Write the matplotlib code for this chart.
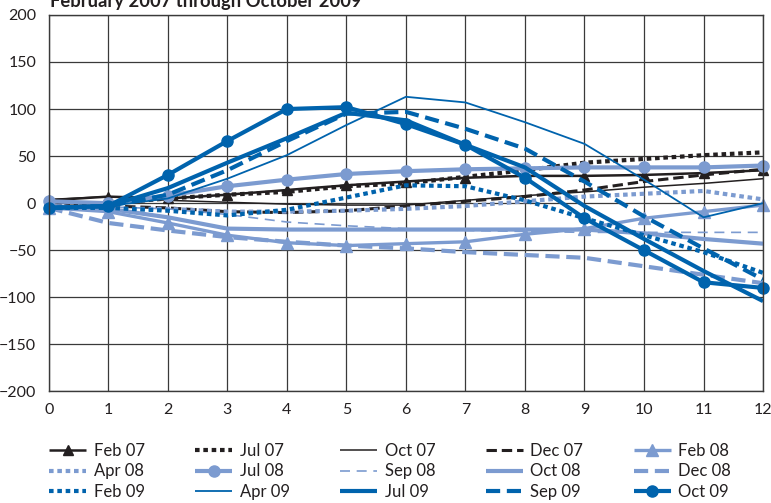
import numpy as np
import matplotlib.pyplot as plt

plt.rcParams['font.family'] = ['Lato', 'DejaVu Sans']

x = list(range(0, 13))

feb07 = [3, 7, 5, 9, 14, 19, 23, 27, 29, 29, 30, 32, 35]
jul07 = [0, 0, 5, 9, 12, 18, 21, 28, 35, 43, 47, 51, 54]
oct07 = [4, 7, 3, 1, -1, -2, -2, 3, 8, 12, 17, 21, 26]
dec07 = [-3, -3, -5, -9, -10, -8, -3, 2, 7, 14, 23, 30, 36]
feb08 = [-5, -9, -21, -34, -42, -45, -43, -41, -33, -27, -16, -9, -2]
apr08 = [-3, -6, -6, -9, -9, -8, -6, -3, 2, 7, 10, 13, 4]
jul08 = [2, 0, 8, 18, 25, 31, 34, 36, 37, 38, 38, 38, 40]
sep08 = [-3, -4, -6, -12, -20, -24, -27, -29, -30, -31, -31, -31, -31]
oct08 = [-3, -6, -15, -27, -28, -28, -28, -28, -28, -28, -32, -38, -43]
dec08 = [-5, -21, -29, -36, -41, -45, -48, -52, -55, -58, -67, -76, -85]
feb09 = [-5, -5, -8, -13, -7, 6, 19, 18, 3, -16, -34, -52, -74]
apr09 = [-5, -3, 5, 26, 51, 83, 113, 107, 86, 63, 25, -15, 0]
jul09 = [-5, -3, 16, 43, 69, 96, 88, 62, 38, -3, -38, -72, -104]
sep09 = [-5, -3, 9, 35, 66, 95, 97, 79, 58, 23, -14, -48, -81]
oct09 = [-5, -3, 30, 66, 100, 102, 84, 62, 27, -16, -50, -84, -90]

BLACK = '#231f20'
LIGHT = '#7c9bd0'
DARK = '#0063ad'

dots = (0, (1.1, 0.9))
dash = (0, (3.4, 1.6))

series = [
    ('Feb 07', feb07, dict(color=BLACK, lw=1.8, marker='^', ms=7)),
    ('Jul 07', jul07, dict(color=BLACK, lw=3.0, linestyle=dots)),
    ('Oct 07', oct07, dict(color=BLACK, lw=1.1)),
    ('Dec 07', dec07, dict(color=BLACK, lw=2.2, linestyle=dash)),
    ('Feb 08', feb08, dict(color=LIGHT, lw=2.4, marker='^', ms=8)),
    ('Apr 08', apr08, dict(color=LIGHT, lw=3.0, linestyle=dots)),
    ('Jul 08', jul08, dict(color=LIGHT, lw=3.0, marker='o', ms=8)),
    ('Sep 08', sep08, dict(color=LIGHT, lw=1.2, linestyle=(0, (6, 4)))),
    ('Oct 08', oct08, dict(color=LIGHT, lw=3.0)),
    ('Dec 08', dec08, dict(color=LIGHT, lw=3.0, linestyle=dash)),
    ('Feb 09', feb09, dict(color=DARK, lw=3.0, linestyle=dots)),
    ('Apr 09', apr09, dict(color=DARK, lw=1.3)),
    ('Jul 09', jul09, dict(color=DARK, lw=3.0)),
    ('Sep 09', sep09, dict(color=DARK, lw=3.0, linestyle=dash)),
    ('Oct 09', oct09, dict(color=DARK, lw=3.0, marker='o', ms=8)),
]

fig = plt.figure(figsize=(7.71, 5.03), dpi=100)
ax = fig.add_axes([0.0632, 0.2217, 0.9265, 0.7487])

handles = []
for label, vals, style in series:
    h, = ax.plot(x, vals, label=label, solid_capstyle='butt', dash_capstyle='butt',
                 clip_on=False, **style)
    handles.append(h)

ax.set_xlim(0, 12)
ax.set_ylim(-200, 200)
ax.set_xticks(x)
ax.set_yticks(range(-200, 201, 50))
ax.grid(True, color='#3a3a3a', lw=0.9)
ax.set_axisbelow(True)
for sp in ax.spines.values():
    sp.set_color('#3a3a3a')
    sp.set_linewidth(1.0)
ax.tick_params(length=0, labelsize=11.5, colors=BLACK, pad=8)
ax.tick_params(axis='y', pad=9)

fig.text(0.065, 1 - 7 / 503, 'February 2007 through October 2009', fontsize=13.2,
         fontweight='bold', color=BLACK, va='baseline', ha='left')

# legend is filled column by column, so reorder rows into columns
order = [r * 5 + c for c in range(5) for r in range(3)]
fig.legend([handles[i] for i in order], [series[i][0] for i in order],
           ncol=5, loc='upper left', bbox_to_anchor=(0.064, 0.119),
           frameon=False, fontsize=12, handlelength=2.2, handletextpad=0.45,
           columnspacing=3.05, labelspacing=0.26, borderaxespad=0, borderpad=0,
           labelcolor=BLACK)

fig.savefig('out.png', dpi=100)
